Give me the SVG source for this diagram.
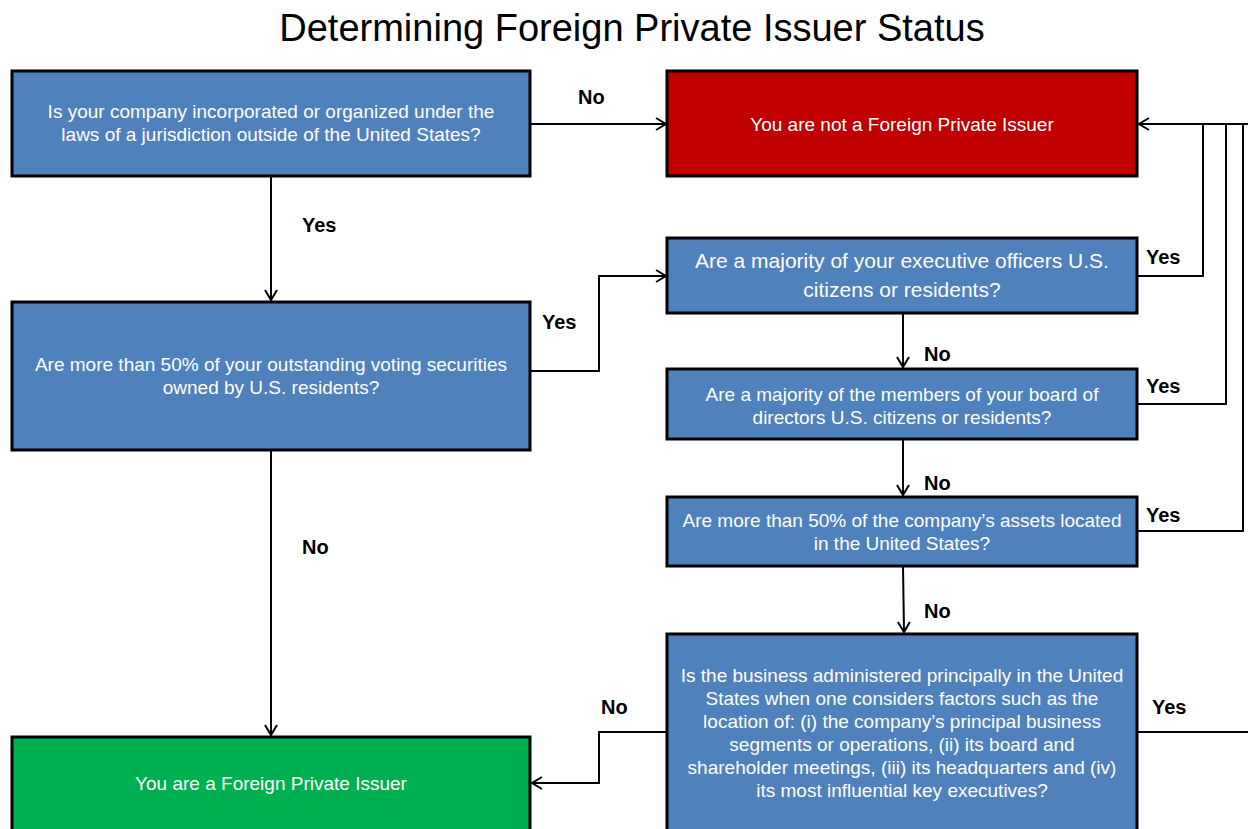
<svg xmlns="http://www.w3.org/2000/svg" width="1248" height="829" viewBox="0 0 1248 829">
<defs>
<style>
.box{stroke:#000;stroke-width:3}
.blue{fill:#4F81BD}
.red{fill:#C00000}
.green{fill:#00B050}
.t{font-family:"Liberation Sans",Arial,sans-serif;fill:#fff;text-anchor:middle;font-size:19px}
.t21{font-size:21px}
.lbl{font-family:"Liberation Sans",Arial,sans-serif;font-weight:bold;font-size:20px;fill:#000}
.title{font-family:"Liberation Sans",Arial,sans-serif;font-size:38px;fill:#000;text-anchor:middle}
.c{fill:none;stroke:#000;stroke-width:2}
</style>
<marker id="arr" viewBox="0 0 14 14" refX="12" refY="7" markerWidth="14" markerHeight="14" markerUnits="userSpaceOnUse" orient="auto">
<path d="M2,1 L12,7 L2,13" fill="none" stroke="#000" stroke-width="2"/>
</marker>
</defs>
<rect width="1248" height="829" fill="#fff"/>
<text class="title" x="632" y="41">Determining Foreign Private Issuer Status</text>

<g id="connectors">
<path class="c" d="M530,124 L666,124" marker-end="url(#arr)"/>
<path class="c" d="M271,176 L271,300" marker-end="url(#arr)"/>
<path class="c" d="M530,371 L599,371 L599,276 L666,276" marker-end="url(#arr)"/>
<path class="c" d="M271,451 L271,735" marker-end="url(#arr)"/>
<path class="c" d="M903,313 L903,367" marker-end="url(#arr)"/>
<path class="c" d="M903,439 L903,495" marker-end="url(#arr)"/>
<path class="c" d="M903,566 L904,632" marker-end="url(#arr)"/>
<path class="c" d="M1137,276 L1203,276 L1203,124"/>
<path class="c" d="M1137,404 L1226,404 L1226,124"/>
<path class="c" d="M1137,531 L1243,531 L1243,124"/>
<path class="c" d="M1248,124 L1139,124" marker-end="url(#arr)"/>
<path class="c" d="M1137,732 L1248,732"/>
<path class="c" d="M667,732 L599,732 L599,783 L532,783" marker-end="url(#arr)"/>
<text class="lbl" x="578" y="104">No</text>
<text class="lbl" x="302" y="232">Yes</text>
<text class="lbl" x="542" y="329">Yes</text>
<text class="lbl" x="302" y="554">No</text>
<text class="lbl" x="924" y="361">No</text>
<text class="lbl" x="924" y="490">No</text>
<text class="lbl" x="924" y="618">No</text>
<text class="lbl" x="1146" y="264">Yes</text>
<text class="lbl" x="1146" y="393">Yes</text>
<text class="lbl" x="1146" y="522">Yes</text>
<text class="lbl" x="601" y="714">No</text>
<text class="lbl" x="1152" y="714">Yes</text>
</g>

<g id="q1">
<rect class="box blue" x="12" y="71" width="518" height="105"/>
<text class="t" x="271" y="118">Is your company incorporated or organized under the</text>
<text class="t" x="271" y="141">laws of a jurisdiction outside of the United States?</text>
</g>
<g id="not-fpi">
<rect class="box red" x="667" y="71" width="470" height="105"/>
<text class="t" x="902" y="131">You are not a Foreign Private Issuer</text>
</g>
<g id="q2">
<rect class="box blue" x="12" y="302" width="518" height="148"/>
<text class="t" x="271" y="371">Are more than 50% of your outstanding voting securities</text>
<text class="t" x="271" y="394">owned by U.S. residents?</text>
</g>
<g id="q3">
<rect class="box blue" x="667" y="238" width="470" height="75"/>
<text class="t t21" x="902" y="268">Are a majority of your executive officers U.S.</text>
<text class="t t21" x="902" y="297">citizens or residents?</text>
</g>
<g id="q4">
<rect class="box blue" x="667" y="369" width="470" height="70"/>
<text class="t" x="902" y="401">Are a majority of the members of your board of</text>
<text class="t" x="902" y="424">directors U.S. citizens or residents?</text>
</g>
<g id="q5">
<rect class="box blue" x="667" y="497" width="470" height="69"/>
<text class="t" x="902" y="527">Are more than 50% of the company’s assets located</text>
<text class="t" x="902" y="550">in the United States?</text>
</g>
<g id="q6">
<rect class="box blue" x="667" y="634" width="470" height="200"/>
<text class="t" x="902" y="682">Is the business administered principally in the United</text>
<text class="t" x="902" y="705">States when one considers factors such as the</text>
<text class="t" x="902" y="728">location of: (i) the company’s principal business</text>
<text class="t" x="902" y="751">segments or operations, (ii) its board and</text>
<text class="t" x="902" y="774">shareholder meetings, (iii) its headquarters and (iv)</text>
<text class="t" x="902" y="797">its most influential key executives?</text>
</g>
<g id="fpi">
<rect class="box green" x="12" y="737" width="518" height="100"/>
<text class="t" x="271" y="790">You are a Foreign Private Issuer</text>
</g>
</svg>
